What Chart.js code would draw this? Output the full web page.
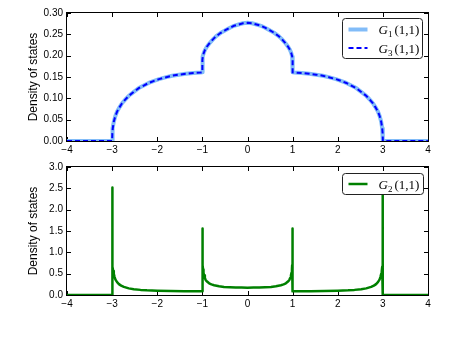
<!DOCTYPE html>
<html lang="en">
<head>
<meta charset="UTF-8">
<title>Density of states</title>
<script src="https://cdn.jsdelivr.net/npm/chart.js"></script>
<style>
    html, body { margin: 0; padding: 0; background: #fff; }
    #wrap { position: relative; width: 462px; height: 363px; }
    .panel { position: absolute; left: 0; width: 462px; height: 160px; }
    #topPanel { top: 0; }
    #bottomPanel { top: 154px; }
</style>
</head>
<body>
<div id="wrap">
    <div class="panel" id="topPanel"><canvas id="topChart" width="462" height="160"></canvas></div>
    <div class="panel" id="bottomPanel"><canvas id="bottomChart" width="462" height="160"></canvas></div>
</div>

<script>
// tick labels
const xTickValues = [-4, -3, -2, -1, 0, 1, 2, 3, 4];
const topYTicks = [0, 0.05, 0.10, 0.15, 0.20, 0.25, 0.30];
const bottomYTicks = [0, 0.5, 1.0, 1.5, 2.0, 2.5, 3.0];
const yAxisLabel = 'Density of states';

// top panel: G1 and G3
const dosX = [-4, -3, -2.995, -2.985, -2.963, -2.93, -2.89, -2.83, -2.78, -2.7, -2.63, -2.52, -2.41, -2.3,
    -2.19, -2.07, -1.96, -1.82, -1.67, -1.52, -1.37, -1.2, -1.04, -1, -1, -0.99, -0.97, -0.94, -0.9,
    -0.85, -0.8, -0.75, -0.7, -0.6, -0.5, -0.4, -0.3, -0.2, -0.1, 0,
    0.1, 0.2, 0.3, 0.4, 0.5, 0.6, 0.7, 0.75, 0.8, 0.85, 0.9, 0.94, 0.97, 0.99, 1, 1, 1.04, 1.2, 1.37,
    1.52, 1.67, 1.82, 1.96, 2.07, 2.19, 2.3, 2.41, 2.52, 2.63, 2.7, 2.78, 2.83, 2.89, 2.93, 2.963,
    2.985, 2.995, 3, 4];
const g1Values = [0, 0, 0.018, 0.03, 0.045, 0.058, 0.069, 0.08, 0.0885, 0.098, 0.106, 0.115, 0.124, 0.13,
    0.136, 0.141, 0.145, 0.149, 0.153, 0.1555, 0.1575, 0.1595, 0.1605, 0.161, 0.19, 0.198, 0.206, 0.214, 0.221,
    0.228, 0.234, 0.24, 0.245, 0.253, 0.259, 0.265, 0.27, 0.273, 0.276, 0.277,
    0.276, 0.273, 0.27, 0.265, 0.259, 0.253, 0.245, 0.24, 0.234, 0.228, 0.221, 0.214, 0.206, 0.198, 0.19,
    0.161, 0.1605, 0.1595, 0.1575, 0.1555, 0.153, 0.149, 0.145, 0.141, 0.136, 0.13, 0.124, 0.115, 0.106,
    0.098, 0.0885, 0.08, 0.069, 0.058, 0.045, 0.03, 0.018, 0, 0];
const g3Values = [0, 0, 0.018, 0.03, 0.045, 0.058, 0.069, 0.08, 0.0885, 0.098, 0.106, 0.115, 0.124, 0.13,
    0.136, 0.141, 0.145, 0.149, 0.153, 0.1555, 0.1575, 0.1595, 0.1605, 0.161, 0.19, 0.198, 0.206, 0.214, 0.221,
    0.228, 0.234, 0.24, 0.245, 0.253, 0.259, 0.265, 0.27, 0.273, 0.276, 0.277,
    0.276, 0.273, 0.27, 0.265, 0.259, 0.253, 0.245, 0.24, 0.234, 0.228, 0.221, 0.214, 0.206, 0.198, 0.19,
    0.161, 0.1605, 0.1595, 0.1575, 0.1555, 0.153, 0.149, 0.145, 0.141, 0.136, 0.13, 0.124, 0.115, 0.106,
    0.098, 0.0885, 0.08, 0.069, 0.058, 0.045, 0.03, 0.018, 0, 0];

// bottom panel: G2
const g2X = [-4, -3, -3, -2.998, -2.995, -2.99, -2.985, -2.975, -2.963, -2.945, -2.926, -2.89, -2.85, -2.8,
    -2.74, -2.63, -2.52, -2.37, -2.23, -2.0, -1.7, -1.4, -1.15, -1, -1, -0.998, -0.995, -0.99, -0.985,
    -0.975, -0.963, -0.945, -0.926, -0.89, -0.85, -0.8, -0.74, -0.63, -0.52, -0.39, -0.26, -0.13, 0,
    0.13, 0.26, 0.39, 0.52, 0.63, 0.74, 0.8, 0.85, 0.89, 0.926, 0.945, 0.963, 0.975, 0.985, 0.99, 0.995,
    0.998, 1, 1, 1.15, 1.4, 1.7, 2.0, 2.23, 2.37, 2.52, 2.63, 2.74, 2.8, 2.85, 2.89, 2.926, 2.945, 2.963,
    2.975, 2.985, 2.99, 2.995, 2.998, 3, 3, 4];
const g2Values = [0, 0, 2.52, 1.7, 1.15, 0.8, 0.66, 0.56, 0.5, 0.42, 0.36, 0.3, 0.255, 0.22,
    0.19, 0.155, 0.135, 0.12, 0.11, 0.1, 0.092, 0.088, 0.086, 0.085, 1.56, 1.2, 0.9, 0.7, 0.6,
    0.52, 0.46, 0.4, 0.35, 0.31, 0.275, 0.25, 0.23, 0.205, 0.19, 0.182, 0.177, 0.173, 0.172,
    0.173, 0.177, 0.182, 0.19, 0.205, 0.23, 0.25, 0.275, 0.31, 0.35, 0.4, 0.46, 0.52, 0.6, 0.7, 0.9,
    1.2, 1.56, 0.085, 0.086, 0.088, 0.092, 0.1, 0.11, 0.12, 0.135, 0.155, 0.19, 0.22, 0.255, 0.3, 0.36,
    0.42, 0.5, 0.56, 0.66, 0.8, 1.15, 1.7, 2.52, 0, 0];

Chart.defaults.font.family = "'Liberation Sans', Arial, sans-serif";
Chart.defaults.font.size = 10;
Chart.defaults.color = '#000';

function toPoints(xs, ys) {
    return xs.map((x, i) => ({ x: x, y: ys[i] }));
}

function minusLabel(v) {
    return v < 0 ? '\u2212' + Math.abs(v) : String(v);
}

// black frame with inward ticks on all four sides (matplotlib classic look)
const frameTicks = {
    id: 'frameTicks',
    beforeDatasetsDraw(chart) {
        const { ctx, chartArea: a, scales } = chart;
        ctx.save();
        ctx.strokeStyle = '#000';
        ctx.lineWidth = 1;
        ctx.strokeRect(a.left - 0.5, a.top - 0.5, a.right - a.left + 1, a.bottom - a.top + 1);
        ctx.beginPath();
        scales.x.ticks.forEach(t => {
            const px = Math.round(scales.x.getPixelForValue(t.value)) + 0.5;
            ctx.moveTo(px, a.bottom); ctx.lineTo(px, a.bottom - 4);
            ctx.moveTo(px, a.top); ctx.lineTo(px, a.top + 4);
        });
        scales.y.ticks.forEach(t => {
            const py = Math.round(scales.y.getPixelForValue(t.value)) + 0.5;
            ctx.moveTo(a.left, py); ctx.lineTo(a.left + 4, py);
            ctx.moveTo(a.right, py); ctx.lineTo(a.right - 4, py);
        });
        ctx.stroke();
        ctx.restore();
    }
};

function drawMathLabel(ctx, text, x, y) {
    const m = text.match(/^(.)_(.)(.*)$/);
    const base = y + 4.5;
    ctx.fillStyle = '#000';
    ctx.textAlign = 'left';
    ctx.textBaseline = 'alphabetic';
    ctx.font = "italic 13px 'Liberation Serif', serif";
    ctx.fillText(m[1], x, base);
    x += ctx.measureText(m[1]).width;
    ctx.font = "9px 'Liberation Serif', serif";
    ctx.fillText(m[2], x, base + 3);
    x += ctx.measureText(m[2]).width + 2;
    ctx.font = "13px 'Liberation Serif', serif";
    ctx.fillText(m[3], x, base);
}

// legend box in the upper right corner of the plot area
const boxLegend = {
    id: 'boxLegend',
    afterDatasetsDraw(chart, args, opts) {
        const { ctx, chartArea: a } = chart;
        const bx = a.right - opts.right - opts.width + 0.5;
        const by = a.top + opts.top + 0.5;
        const w = opts.width, h = opts.height, r = 3;
        ctx.save();
        ctx.beginPath();
        ctx.moveTo(bx + r, by);
        ctx.arcTo(bx + w, by, bx + w, by + h, r);
        ctx.arcTo(bx + w, by + h, bx, by + h, r);
        ctx.arcTo(bx, by + h, bx, by, r);
        ctx.arcTo(bx, by, bx + w, by, r);
        ctx.closePath();
        ctx.fillStyle = '#fff';
        ctx.fill();
        ctx.strokeStyle = '#222';
        ctx.lineWidth = 1;
        ctx.stroke();
        chart.data.datasets.forEach((ds, i) => {
            const cy = by + opts.firstRow + i * opts.rowGap;
            ctx.beginPath();
            ctx.setLineDash(ds.borderDash || []);
            ctx.strokeStyle = ds.borderColor;
            ctx.lineWidth = ds.borderWidth;
            ctx.moveTo(bx + 6, cy);
            ctx.lineTo(bx + 25, cy);
            ctx.stroke();
            ctx.setLineDash([]);
            drawMathLabel(ctx, ds.label, bx + 36, cy);
        });
        ctx.restore();
    }
};

function makeOptions(yTicks, digits, legendOpts) {
    return {
        responsive: false,
        animation: false,
        layout: { padding: { top: 13, right: 34, bottom: 0, left: 0 } },
        plugins: {
            legend: { display: false },
            tooltip: { enabled: false },
            boxLegend: legendOpts
        },
        scales: {
            x: {
                type: 'linear',
                min: -4,
                max: 4,
                afterBuildTicks: s => { s.ticks = xTickValues.map(v => ({ value: v })); },
                afterFit: s => { s.height = 19; },
                grid: { display: false, drawTicks: false },
                border: { display: false },
                ticks: { padding: 3, maxRotation: 0, autoSkip: false, callback: v => minusLabel(v) }
            },
            y: {
                min: yTicks[0],
                max: yTicks[yTicks.length - 1],
                afterBuildTicks: s => { s.ticks = yTicks.map(v => ({ value: v })); },
                afterFit: s => { s.width = 67; },
                grid: { display: false, drawTicks: false },
                border: { display: false },
                ticks: { padding: 4, autoSkip: false, callback: v => Number(v).toFixed(digits) },
                title: {
                    display: true,
                    text: yAxisLabel,
                    font: { size: 12 },
                    padding: { top: 26, bottom: 0 }
                }
            }
        }
    };
}

new Chart(document.getElementById('topChart'), {
    type: 'scatter',
    data: {
        datasets: [{
            label: 'G_1(1,1)',
            data: toPoints(dosX, g1Values),
            showLine: true,
            borderColor: '#82bcf8',
            borderWidth: 4,
            borderJoinStyle: 'round',
            pointRadius: 0,
            order: 2
        }, {
            label: 'G_3(1,1)',
            data: toPoints(dosX, g3Values),
            showLine: true,
            borderColor: '#0000ff',
            borderWidth: 2,
            borderDash: [5, 3],
            pointRadius: 0,
            order: 1
        }]
    },
    options: makeOptions(topYTicks, 2, { right: 6, top: 5, width: 80, height: 40, firstRow: 11, rowGap: 18.5 }),
    plugins: [frameTicks, boxLegend]
});

new Chart(document.getElementById('bottomChart'), {
    type: 'scatter',
    data: {
        datasets: [{
            label: 'G_2(1,1)',
            data: toPoints(g2X, g2Values),
            showLine: true,
            borderColor: '#008000',
            borderWidth: 2.5,
            borderJoinStyle: 'round',
            pointRadius: 0
        }]
    },
    options: makeOptions(bottomYTicks, 1, { right: 5, top: 6, width: 81, height: 21, firstRow: 10.5, rowGap: 18.5 }),
    plugins: [frameTicks, boxLegend]
});
</script>
</body>
</html>
